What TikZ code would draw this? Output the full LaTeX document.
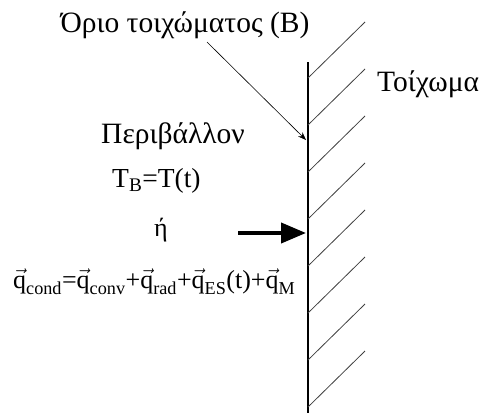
\documentclass[tikz,border=0pt]{standalone}
\usepackage{amsmath}
\usepackage{fontspec}
\setmainfont{Liberation Serif}
\usepackage{tikz}
\usetikzlibrary{arrows.meta}
\newcommand{\vq}{\vec{\text{q}}}
\newcommand{\lbl}[1]{_{\text{#1}}}

\begin{document}
\begin{tikzpicture}[>=Stealth, x=1pt, y=-1pt]
  \tikzset{txt/.style={font=\fontsize{26}{30}\selectfont, inner sep=0pt},
           greek/.style={font=\fontsize{29.5}{34}\selectfont, inner sep=0pt}}
  \useasboundingbox (0,0) rectangle (486,413);
  % wall with hatching
  \draw[line width=2.6pt] (308,62) -- (308,413);
  \foreach \y in {78,125,...,413}
    \draw[line width=0.8pt, black!75] (308,\y) -- ++(57,-56);
  \coordinate (lead) at (207,42);
  \coordinate (bnd) at (306,140);
  \coordinate (hit) at (306,233);
  \coordinate (src) at (238,233);
  % labels
  \node[greek, anchor=base] (orio) at (185,32) {Όριο τοιχώματος (B)};
  \node[greek, anchor=base west] (wall) at (377,91) {Τοίχωμα};
  \node[greek, anchor=base] (env) at (173,143) {Περιβάλλον};
  \node[txt, anchor=base west, font=\fontsize{27.5}{32}\selectfont] (temp) at (112,187) {$\text{T}\lbl{B}\text{=T(t)}$};
  \node[txt, anchor=base] (or) at (161,236) {ή};
  \node[txt, anchor=base west] (flux) at (13,288)
    {$\vq\lbl{cond}\text{=}\vq\lbl{conv}\text{+}\vq\lbl{rad}\text{+}\vq\lbl{ES}\text{(t)+}\vq\lbl{M}$};
  % arrows
  \draw[->, line width=0.6pt, >={Stealth[length=8pt, width=6pt]}] (lead) -- (bnd);
  \draw[->, line width=4pt, >={Triangle[length=25pt, width=20pt]}] (src) -- (hit);
\end{tikzpicture}
\end{document}
